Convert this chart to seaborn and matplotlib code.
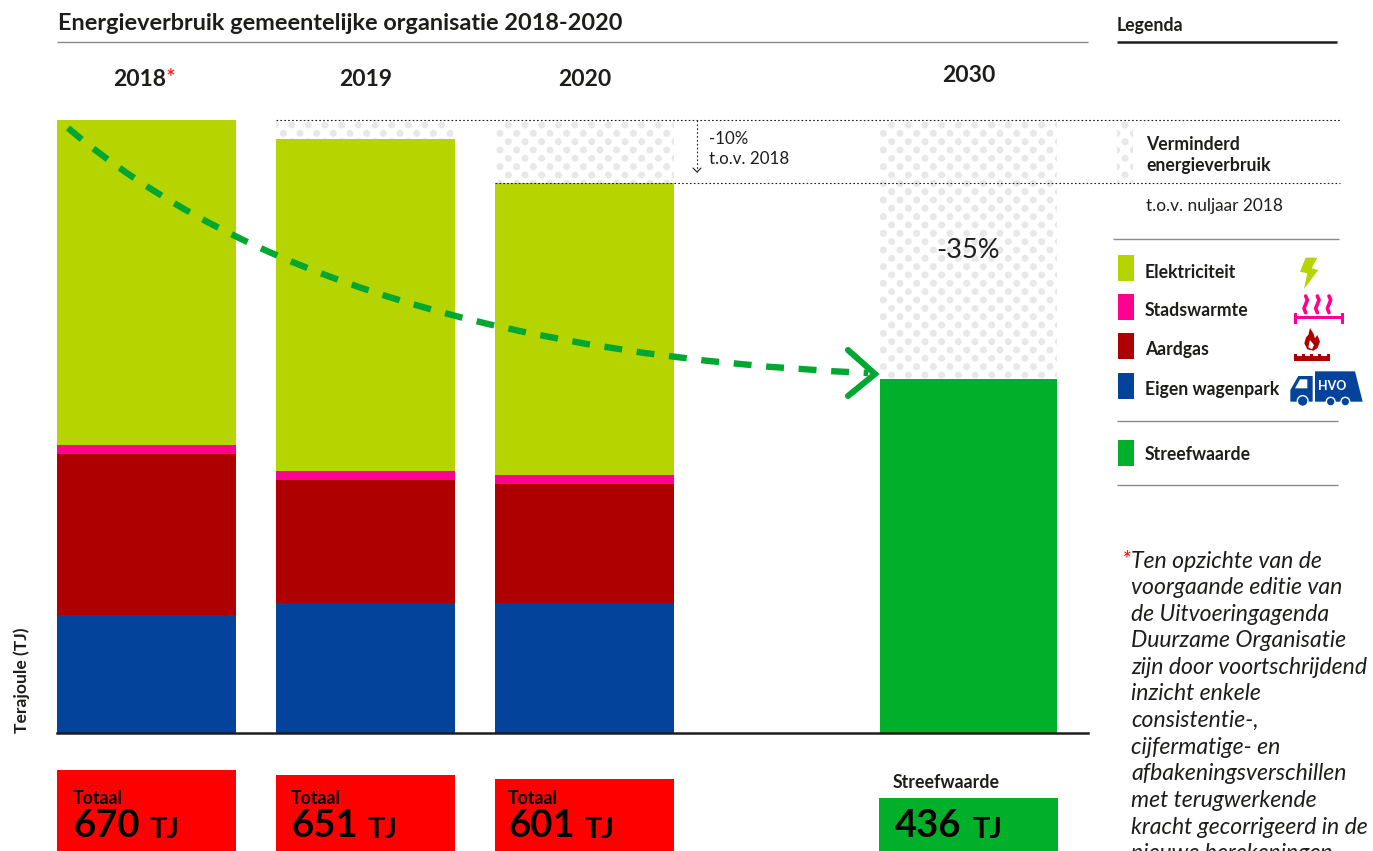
import numpy as np
import pandas as pd
import seaborn as sns
import matplotlib
matplotlib.use("Agg")
import matplotlib.pyplot as plt
import matplotlib.hatch as mhatch
from matplotlib.patches import Rectangle, Polygon, PathPatch, Circle
from matplotlib.path import Path

# ---------- data (TJ) ----------
years = ["2018", "2019", "2020"]
year_slots = [0.0, 1.0, 2.0]
target_year = "2030"
target_slot = [3.753]
wagenpark = [129, 142, 142]
aardgas = [176, 134, 130]
stadswarmte = [10, 10, 10]
elektriciteit = [355, 363, 319]
target_drawn = [387]
baseline_2018 = 670
totals = [670, 651, 601]
target_label = 436

layer_names = ["Eigen wagenpark", "Aardgas", "Stadswarmte", "Elektriciteit"]
layer_colors = ["#04439c", "#ae0000", "#ff0090", "#b5d400"]
GREEN = "#00b02a"
RED = "#ff0000"
INK = "#1d1d1b"
GRAY = "#8a8a8a"
DOT = "#e8e8e8"

footnote = ["Ten opzichte van de", "voorgaande editie van", "de Uitvoeringagenda",
            "Duurzame Organisatie", "zijn door voortschrijdend", "inzicht enkele",
            "consistentie-,", "cijfermatige- en", "afbakeningsverschillen",
            "met terugwerkende", "kracht gecorrigeerd in de", "nieuwe berekeningen"]

sns.set_theme(style="white")
plt.rcParams["font.family"] = ["Lato", "DejaVu Sans"]
plt.rcParams["hatch.linewidth"] = 0


class StaggeredDots(mhatch.HatchPatternBase):
    """Filled dots, 6 per tile across and 12 staggered rows per tile."""
    cols, rows, radius = 6, 12, 0.035

    def __init__(self, hatch, density):
        self.on = "." in hatch
        self.shape = Path.unit_circle()
        self.centres = []
        if self.on:
            for r in range(self.rows + 1):
                if r % 2 == 0:
                    xs = np.arange(self.cols + 1) / self.cols
                else:
                    xs = (np.arange(self.cols) + 0.5) / self.cols
                self.centres += [(x, r / self.rows) for x in xs]
        self.num_vertices = len(self.centres) * len(self.shape.vertices)

    def set_vertices_and_codes(self, vertices, codes):
        n = len(self.shape.vertices)
        for i, c in enumerate(self.centres):
            vertices[i * n:(i + 1) * n] = self.shape.vertices * self.radius + c
            codes[i * n:(i + 1) * n] = self.shape.codes


mhatch._hatch_types[mhatch._hatch_types.index(mhatch.SmallFilledCircles)] = StaggeredDots

W, H = 1373, 851
fig = plt.figure(figsize=(W / 100, H / 100), dpi=100, facecolor="white")

# ---------- bars ----------
ax = fig.add_axes([57 / W, (H - 733) / H, (1088 - 57) / W, 633 / H])
BW = 179 / 219


def layer(xs, ys, bottoms, **kw):
    df = pd.DataFrame({"x": xs, "y": ys})
    sns.barplot(data=df, x="x", y="y", bottom=bottoms, native_scale=True, ax=ax,
                width=kw.pop("width", BW), saturation=1, errorbar=None, linewidth=0, **kw)


cum = np.zeros(3)
for name, vals, col in zip(layer_names, [wagenpark, aardgas, stadswarmte, elektriciteit], layer_colors):
    layer(year_slots, vals, cum, color=col)
    cum = cum + np.array(vals)

layer(year_slots[1:], baseline_2018 - cum[1:], cum[1:], color="white", edgecolor=DOT, hatch=".")
layer(target_slot, target_drawn, 0, color=GREEN, width=177 / 219)
layer(target_slot, [baseline_2018 - target_drawn[0]], target_drawn[0], color="white",
      edgecolor=DOT, hatch=".", width=177 / 219)

ax.set_xlim(-(146.5 - 57) / 219, (1088 - 146.5) / 219)
ax.set_ylim(0, baseline_2018 * 633 / 613)
ax.set_xticks([])
ax.set_yticks([])
ax.set_xlabel("")
ax.set_ylabel("")
for s in ["top", "left", "right"]:
    ax.spines[s].set_visible(False)
ax.spines["bottom"].set_color(INK)
ax.spines["bottom"].set_linewidth(1.8)
ax.patch.set_alpha(0)

# ---------- overlay in pixel space ----------
ov = fig.add_axes([0, 0, 1, 1], zorder=5)
ov.set_xlim(0, W)
ov.set_ylim(H, 0)
ov.axis("off")
ov.patch.set_alpha(0)


def T(x, y, s, size=11, weight="normal", color=INK, ha="left", va="center", **kw):
    return ov.text(x, y, s, fontsize=size, fontweight=weight, color=color, ha=ha, va=va, **kw)


def HL(x0, x1, y, color=GRAY, lw=1.0, ls="-"):
    ov.plot([x0, x1], [y, y], color=color, lw=lw, ls=ls, solid_capstyle="butt")


T(58, 23, "Energieverbruik gemeentelijke organisatie 2018-2020", 16.9, "bold")
HL(57, 1088, 42, GRAY, 1.0)
T(1117, 25, "Legenda", 12.8, "bold")
HL(1117, 1337, 42, INK, 1.8)

T(113, 80, years[0], 16.5, "bold")
T(166, 78, "*", 16.5, "normal", RED)
T(365.5, 80, years[1], 16.5, "bold", ha="center")
T(584.5, 79, years[2], 16.5, "bold", ha="center")
T(968.5, 75, target_year, 16.5, "bold", ha="center")

dot = (0, (1.5, 2.0))
HL(276, 1340, 120, INK, 0.8, dot)
HL(495, 1340, 183, INK, 0.8, dot)
ov.plot([697, 697], [120, 172], color=INK, lw=0.8, ls=dot)
ov.plot([693, 697, 701], [168, 172, 168], color=INK, lw=0.8)
T(709, 138.5, "-10%", 12.2)
T(709, 158.5, "t.o.v. 2018", 12.2)
T(968.5, 251, "-35%", 19.5, ha="center")

# arrow (quadratic curve)
curve = Path([(68, 128), (328, 349), (868, 373)], [Path.MOVETO, Path.CURVE3, Path.CURVE3])
ov.add_patch(PathPatch(curve, fill=False, edgecolor="#00a832", lw=4.6, ls=(0, (2.8, 2.3)), capstyle="butt"))
ov.plot([848, 875, 848], [350, 374, 396], color="#00a832", lw=4.4, solid_joinstyle="miter")

# legend
ov.add_patch(Rectangle((1117, 120), 16, 63, facecolor="white", edgecolor=DOT, hatch=".", lw=0))
T(1146, 144, "Verminderd", 12.7, "bold")
T(1146, 165, "energieverbruik", 12.7, "bold")
T(1146, 206, "t.o.v. nuljaar 2018", 12.4)
HL(1113, 1339, 239)
for y, c, s in zip([271, 310, 349, 389], layer_colors[::-1], layer_names[::-1]):
    ov.add_patch(Rectangle((1118, y - 16), 16, 26, color=c, lw=0))
    T(1145, y + 1, s, 12.7, "bold")
HL(1117, 1338, 421)
ov.add_patch(Rectangle((1118, 440), 16, 26, color=GREEN, lw=0))
T(1145, 454, "Streefwaarde", 12.7, "bold")
HL(1117, 1338, 485)


# icons
def Z(pts):
    return [(1100 + x / 3, 100 + y / 3) for x, y in pts]


ov.add_patch(Polygon(Z([(617, 473), (652, 473), (635, 505), (655, 510), (612, 567), (622, 520), (600, 515)]),
                     color=layer_colors[3], lw=0))
pink = layer_colors[2]
for zx in (617, 652, 687):
    yy = np.array([588, 600, 613, 625, 638])
    xx = zx + np.array([0, 5, 0, -5, 0]) * 1.0
    ov.plot(*zip(*Z(list(zip(xx, yy)))), color=pink, lw=2.6)
ov.add_patch(Polygon(Z([(582, 638), (592, 638), (592, 647), (722, 647), (722, 638), (732, 638), (732, 671),
                        (722, 671), (722, 658), (592, 658), (592, 671), (582, 671)]), color=pink, lw=0))
red = layer_colors[1]
ov.add_patch(Polygon(Z([(630, 684), (640, 700), (645, 715), (652, 705), (660, 725), (652, 745), (640, 752),
                        (622, 748), (613, 730), (618, 712), (625, 705)]), color=red, lw=0))
ov.add_patch(Polygon(Z([(630, 720), (642, 735), (636, 748), (625, 742)]), color="white", lw=0))
ov.add_patch(Polygon(Z([(582, 782), (582, 762), (590, 762), (590, 768), (606, 768), (606, 762), (614, 762),
                        (614, 768), (630, 768), (630, 762), (638, 762), (638, 768), (654, 768), (654, 762),
                        (662, 762), (662, 768), (680, 768), (680, 762), (690, 762), (690, 782)]), color=red, lw=0))
blue = layer_colors[0]
ov.add_patch(Polygon(Z([(645, 814), (765, 814), (788, 905), (645, 905)]), color=blue, lw=0))
ov.add_patch(Polygon(Z([(571, 905), (571, 870), (595, 828), (638, 828), (638, 905)]), color=blue, lw=0))
ov.add_patch(Polygon(Z([(585, 865), (600, 838), (622, 838), (622, 865)]), color="white", lw=0))
for zx, zy, r in [(608, 903, 16), (692, 905, 13), (736, 905, 13)]:
    cx, cy = Z([(zx, zy)])[0]
    ov.add_patch(Circle((cx, cy), r / 3, facecolor=blue, edgecolor="white", lw=1))
T(1332, 386, "HVO", 9, "bold", "white", ha="center")

# footnote
T(1121, 560, "*", 16.4, "normal", RED, style="italic")
for i, line in enumerate(footnote):
    T(1131, 561 + i * 26.6, line, 16.6, style="italic", clip_on=False)

# y label
T(22, 733, "Terajoule (TJ)", 12.6, "bold", ha="center", va="bottom", rotation=90)

# total boxes
slots_px = [57, 276, 495]
tops_px = [770, 775, 779]
for x0, top, tot, ty in zip(slots_px, tops_px, totals, [798, 798, 798]):
    ov.add_patch(Rectangle((x0, top), 179, H - top, color=RED, lw=0))
    tx = x0 + (16 if x0 == 57 else 15 if x0 == 276 else 13)
    T(tx, ty, "Totaal", 12.8, "bold", "black")
    T(tx, 826, str(tot), 27.5, "bold", "black")
    T(tx + 77, 830, "TJ", 21, "bold", "black")
T(893, 782, "Streefwaarde", 12.8, "bold")
ov.add_patch(Rectangle((879, 798), 179, H - 798, color=GREEN, lw=0))
T(895, 826, str(target_label), 27.5, "bold", "black")
T(973, 830, "TJ", 21, "bold", "black")

fig.savefig("out.png", dpi=100)
